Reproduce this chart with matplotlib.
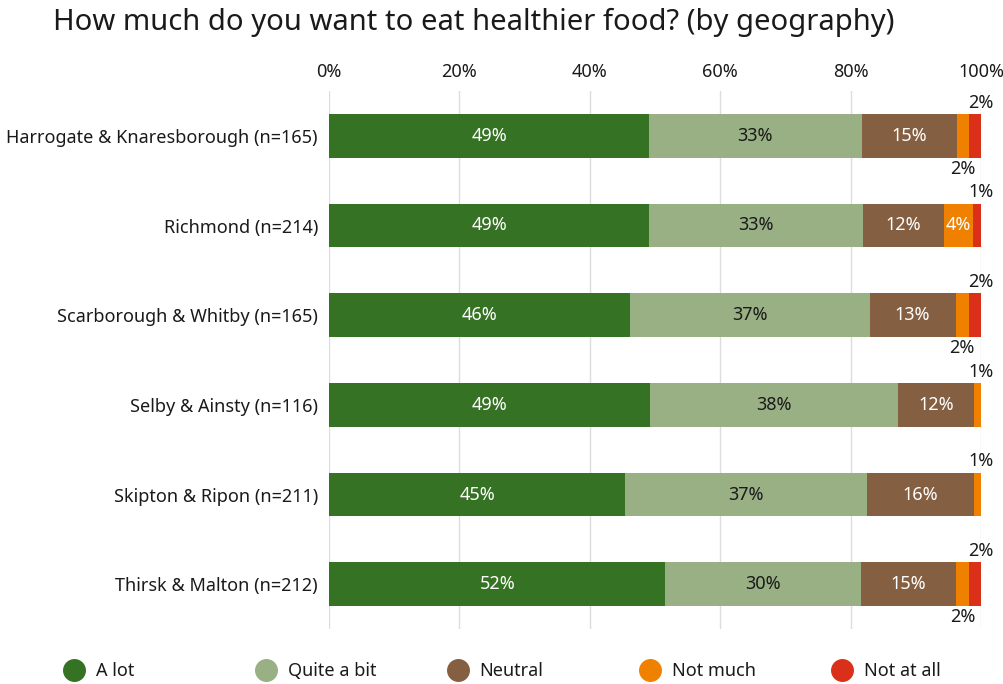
import matplotlib
matplotlib.use("Agg")
import matplotlib.pyplot as plt
from matplotlib.lines import Line2D

plt.rcParams['font.family'] = ['Noto Sans', 'DejaVu Sans']

title = "How much do you want to eat healthier food? (by geography)"
areas = [
    "Harrogate & Knaresborough (n=165)",
    "Richmond (n=214)",
    "Scarborough & Whitby (n=165)",
    "Selby & Ainsty (n=116)",
    "Skipton & Ripon (n=211)",
    "Thirsk & Malton (n=212)",
]
series = ["A lot", "Quite a bit", "Neutral", "Not much", "Not at all"]
a_lot = [49.1, 49.1, 46.1, 49.2, 45.4, 51.6]
quite_a_bit = [32.6, 32.8, 36.8, 38.0, 37.1, 30.0]
neutral = [14.6, 12.4, 13.2, 11.8, 16.4, 14.6]
not_much = [1.9, 4.4, 2.0, 1.0, 1.1, 1.9]
not_at_all = [1.8, 1.3, 1.9, 0.0, 0.0, 1.9]
ticks = [0, 20, 40, 60, 80, 100]

colors = ["#357223", "#98B083", "#855F42", "#F08000", "#DA3019"]
text_colors = ["white", "#1a1a1a", "white", "white", "white"]

values = [a_lot, quite_a_bit, neutral, not_much, not_at_all]

fig = plt.figure(figsize=(10.04, 6.84), dpi=100)
ax = fig.add_axes([329 / 1004, 55 / 684, 652 / 1004, 538 / 684])

n = len(areas)
lefts = [0.0] * n
for s, vals in enumerate(values):
    ax.barh(range(n), vals, left=lefts, height=0.49, color=colors[s],
            zorder=2, linewidth=0)
    for i, v in enumerate(vals):
        if v <= 0:
            continue
        label = f"{round(v):.0f}%"
        center = lefts[i] + v / 2
        if v >= 3.5:
            ax.text(center, i, label, ha='center', va='center',
                    color=text_colors[s], fontsize=13, zorder=3)
        else:
            # small segments: last one labelled above the bar end, others below
            is_last = all(values[k][i] <= 0 for k in range(s + 1, len(values)))
            if is_last:
                ax.text(lefts[i] + v, i - 0.27, label, ha='center',
                        va='bottom', color='#1a1a1a', fontsize=13, zorder=3)
            else:
                ax.text(center, i + 0.27, label, ha='center', va='top',
                        color='#1a1a1a', fontsize=13, zorder=3)
    lefts = [l + v for l, v in zip(lefts, vals)]

ax.set_xlim(0, 100)
ax.set_ylim(n - 0.5, -0.5)
ax.set_xticks(ticks)
ax.set_xticklabels([f"{t}%" for t in ticks])
ax.xaxis.tick_top()
ax.tick_params(axis='x', length=0, pad=7, labelsize=13, colors='#1a1a1a')
ax.set_yticks(range(n))
ax.set_yticklabels(areas)
ax.tick_params(axis='y', length=0, pad=8, labelsize=13, colors='#1a1a1a')
ax.grid(axis='x', color='#dddddd', linewidth=1, zorder=0)
ax.set_axisbelow(True)
for sp in ax.spines.values():
    sp.set_visible(False)

fig.text(53 / 1004, 1 - 22 / 684, title, fontsize=21, va='center',
         ha='left', color='#1a1a1a')

# legend: evenly spaced entries along the bottom
for s, name in enumerate(series):
    x0 = (73.6 + 192 * s) / 1004
    y0 = 1 - 670 / 684
    fig.add_artist(Line2D([x0], [y0], marker='o', markersize=15.5,
                          color=colors[s], linestyle='none',
                          transform=fig.transFigure))
    fig.text(x0 + 22 / 1004, y0 - 1 / 684, name, fontsize=13, va='center',
             ha='left', color='#1a1a1a')

fig.savefig("out.png", dpi=100, facecolor='white')
